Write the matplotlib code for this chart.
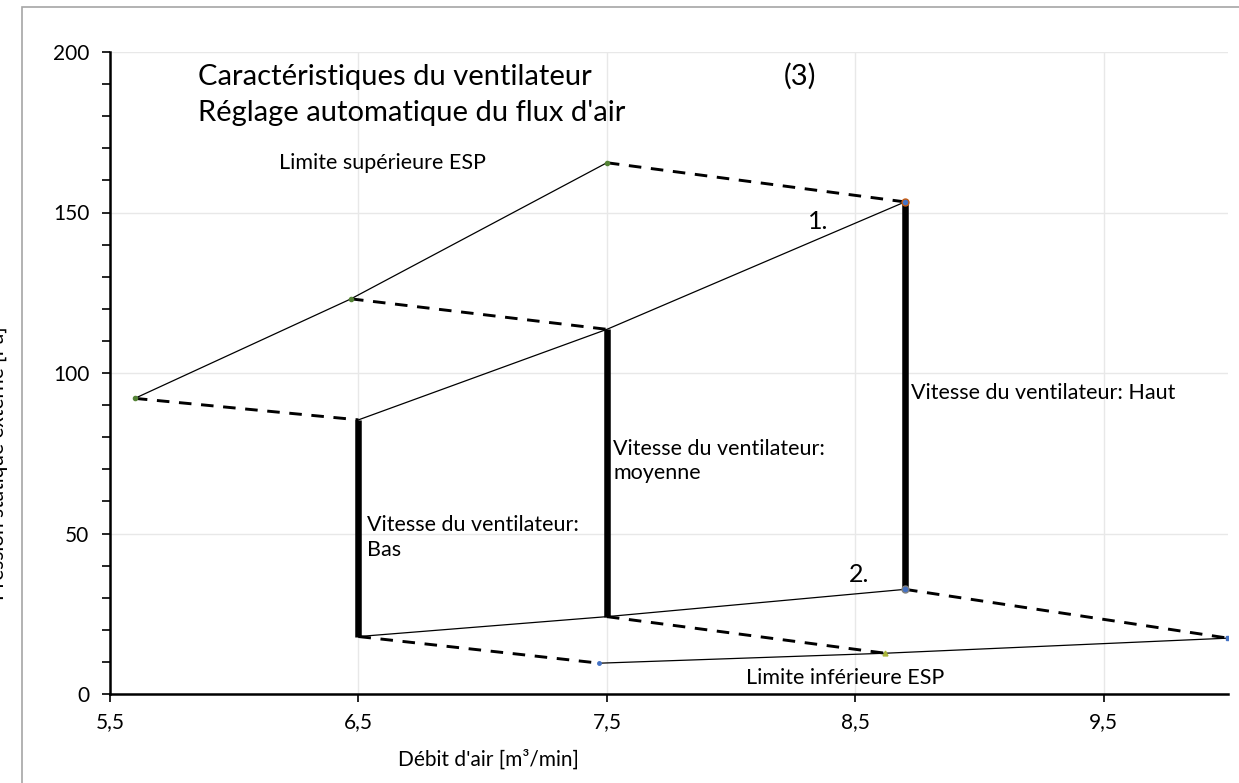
import numpy as np
import matplotlib.pyplot as plt
from matplotlib.patches import Rectangle

# Upper ESP limit curve
upper_x = [5.60, 6.47, 7.50]
upper_y = [92.1, 123.1, 165.5]

# Fan curve 1 (high pressure side)
fan1_x = [6.50, 7.50, 8.70]
fan1_y = [85.4, 113.6, 153.3]

# Fan curve 2 (low pressure side)
fan2_x = [6.50, 7.50, 8.70]
fan2_y = [17.9, 24.1, 32.6]

# Lower ESP limit curve
lower_x = [7.47, 8.62, 10.0]
lower_y = [9.6, 12.7, 17.4]

speed_labels = ["Vitesse du ventilateur:\nBas",
                "Vitesse du ventilateur:\nmoyenne",
                "Vitesse du ventilateur: Haut"]

x_ticks = [5.5, 6.5, 7.5, 8.5, 9.5]
x_ticklabels = ["5,5", "6,5", "7,5", "8,5", "9,5"]
y_ticks = [0, 50, 100, 150, 200]

plt.rcParams['font.family'] = ['Lato', 'DejaVu Sans']

fig = plt.figure(figsize=(12.39, 7.83), dpi=100)
ax = fig.add_axes([110 / 1239, 89 / 783, 1118 / 1239, 642 / 783])

# outer chart border
fig.patches.append(Rectangle((22 / 1239, -0.05), 1.2, (775 + 40) / 783,
                             transform=fig.transFigure, fill=False,
                             edgecolor='#a6a6a6', linewidth=1.2))

# fan curves and limits (thin solid)
ax.plot(upper_x, upper_y, color='black', linewidth=0.9)
ax.plot(fan1_x, fan1_y, color='black', linewidth=0.9)
ax.plot(fan2_x, fan2_y, color='black', linewidth=0.9)
ax.plot(lower_x, lower_y, color='black', linewidth=0.9)

# dashed connections between limits and fan curves
dash = dict(color='black', linewidth=2.1, dashes=(4.3, 3.3))
for i in range(3):
    ax.plot([upper_x[i], fan1_x[i]], [upper_y[i], fan1_y[i]], **dash)
    ax.plot([fan2_x[i], lower_x[i]], [fan2_y[i], lower_y[i]], **dash)

# thick vertical lines for each fan speed
for i in range(3):
    ax.plot([fan1_x[i], fan2_x[i]], [fan1_y[i], fan2_y[i]],
            color='black', linewidth=4.7, solid_capstyle='butt')

# small point markers like the Excel series
ax.plot(upper_x, upper_y, 'o', color='#548235', markersize=3)
ax.plot(lower_x[0], lower_y[0], 'o', color='#4472c4', markersize=2.5)
ax.plot(lower_x[1], lower_y[1], '^', color='#a9b53a', markersize=3.5)
ax.plot(lower_x[2], lower_y[2], 's', color='#4472c4', markersize=3.5)
ax.plot(fan1_x[2], fan1_y[2], 'o', markerfacecolor='#4472c4',
        markeredgecolor='#c55a11', markersize=5)
ax.plot(fan2_x[2], fan2_y[2], 'o', markerfacecolor='#4472c4',
        markeredgecolor='#7f7f7f', markersize=5)

# text annotations
ax.text(5.855, 189.7, "Caractéristiques du ventilateur", fontsize=21,
        va='baseline')
ax.text(5.855, 178.5, "Réglage automatique du flux d'air", fontsize=21,
        va='baseline')
ax.text(8.21, 189.7, "(3)", fontsize=21, va='baseline')
ax.text(6.18, 165.3, "Limite supérieure ESP", fontsize=15.5, va='center')
ax.text(8.06, 5.1, "Limite inférieure ESP", fontsize=15.5, va='center')
ax.text(8.31, 147.1, "1.", fontsize=18, va='center')
ax.text(8.472, 37.1, "2.", fontsize=18, va='center')
ax.text(6.535, 48.8, speed_labels[0], fontsize=15.5, va='center',
        linespacing=1.3)
ax.text(7.526, 72.6, speed_labels[1], fontsize=15.5, va='center',
        linespacing=1.3)
ax.text(8.725, 93.8, speed_labels[2], fontsize=15.5, va='center')

ax.set_xlim(5.5, 10.0)
ax.set_ylim(0, 200)
ax.set_xticks(x_ticks)
ax.set_xticklabels(x_ticklabels)
ax.set_yticks(y_ticks)
ax.set_yticks(np.arange(0, 201, 10), minor=True)
ax.tick_params(axis='both', which='major', labelsize=15, length=6,
               width=1.2, color='black')
ax.tick_params(axis='y', which='minor', length=6, width=1.2)
ax.tick_params(axis='y', pad=9)
ax.tick_params(axis='x', pad=7)

ax.grid(True, which='major', color='#e8e8e8', linewidth=1.0)
ax.set_axisbelow(True)
for side in ['top', 'right']:
    ax.spines[side].set_visible(False)
for side in ['left', 'bottom']:
    ax.spines[side].set_linewidth(1.8)

fig.text(488 / 1239, 23 / 783, "Débit d'air [m³/min]", fontsize=15,
         ha='center', va='center')
fig.text(-2 / 1239, 1 - 463 / 783, "Pression statique externe [Pa]",
         fontsize=15, rotation=90, ha='center', va='center')

plt.savefig("out.png", dpi=100)
